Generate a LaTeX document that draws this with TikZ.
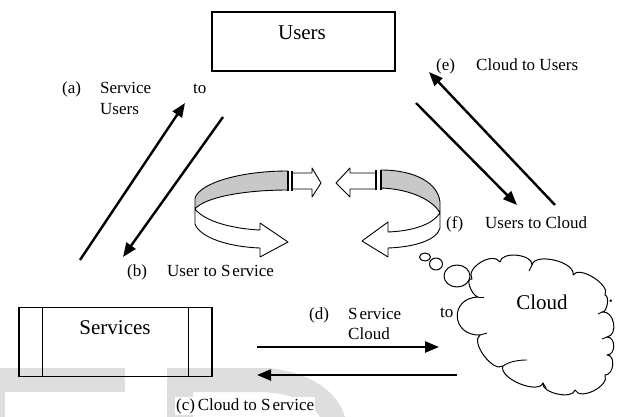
\documentclass[tikz,border=0pt]{standalone}
\usepackage{fontspec}
\setmainfont{Liberation Serif}
\usetikzlibrary{arrows.meta}
\definecolor{bandgray}{RGB}{200,200,200}
\definecolor{wmgray}{RGB}{222,222,222}
\begin{document}
\begin{tikzpicture}[x=1pt,y=-1pt,
  box/.style={draw, line width=1.2pt, inner sep=0pt},
  big/.style={font=\fontsize{21}{25}\selectfont, inner sep=0pt},
  small/.style={font=\fontsize{17}{20}\selectfont, inner sep=0pt, anchor=base west},
  flow/.style={line width=2.4pt, -{Triangle[length=14pt,width=11pt]}},
  band/.style={draw, line width=0.9pt, line join=round},
  cloudline/.style={draw, line width=1pt, line join=round},
  tick/.style={line width=0.9pt}]
\useasboundingbox[fill=white] (0,0) rectangle (621,417);

% watermark
\fill[wmgray] (0,368) rectangle (125,392);
\fill[wmgray] (0,392) rectangle (5,417);
\fill[wmgray] (167,368) -- (268,368) .. controls (310,372) and (338,392) .. (345,417)
  -- (320,417) .. controls (312,402) and (290,393) .. (262,392) -- (193,392)
  -- (193,417) -- (167,417) -- cycle;

% boxes
\node[box, minimum width=183pt, minimum height=59pt] (users) at (303.5,41.5) {};
\node[big] (userstext) at (302,33) {Users};
\node[box, minimum width=193pt, minimum height=69pt] (services) at (115.5,342) {};
\draw[line width=1.2pt] ([xshift=24pt]services.north west) -- ([xshift=24pt]services.south west);
\draw[line width=1.2pt] ([xshift=-24pt]services.north east) -- ([xshift=-24pt]services.south east);
\node[big] (servtext) at (115,328) {Services};

% straight arrows
\coordinate (aS) at (80,260);  \coordinate (aE) at (185,103);
\coordinate (bS) at (223,117); \coordinate (bE) at (123,257);
\coordinate (eS) at (555,205); \coordinate (eE) at (429,72);
\coordinate (fS) at (416,103); \coordinate (fE) at (517,205);
\coordinate (dS) at (257,347); \coordinate (dE) at (439,347);
\coordinate (cS) at (457,375); \coordinate (cE) at (257,375);
\draw[flow] (aS) -- (aE);
\draw[flow] (bS) -- (bE);
\draw[flow] (eS) -- (eE);
\draw[flow] (fS) -- (fE);
\draw[flow] (dS) -- (dE);
\draw[flow] (cS) -- (cE);

% left circular arrow
\filldraw[band, fill=bandgray] (195,198) .. controls (200,183) and (240,171) .. (288,171)
  -- (288,190) .. controls (245,190) and (205,197) .. (195,209) -- cycle;
\filldraw[band, fill=white] (195,209) .. controls (205,222) and (235,229) .. (260,230)
  -- (260,223) -- (288,242) -- (260,257) -- (260,248)
  .. controls (230,247) and (200,238) .. (195,224) -- cycle;
\filldraw[band, fill=white] (292,173) -- (312,173) -- (312,168) -- (321,183)
  -- (312,197) -- (312,189) -- (292,189);
\draw[line width=1.5pt] (288,171) -- (288,191);
\draw[line width=1.5pt] (292,171) -- (292,191);

% right circular arrow
\filldraw[band, fill=bandgray] (381,170) .. controls (415,170) and (438,183) .. (440,202)
  -- (440,213) .. controls (433,200) and (410,189) .. (381,188) -- cycle;
\filldraw[band, fill=white] (440,213) .. controls (432,225) and (412,231) .. (388,232)
  -- (388,222) -- (362,241) -- (388,257) -- (388,248)
  .. controls (415,247) and (437,240) .. (440,228) -- cycle;
\filldraw[band, fill=white] (376,173) -- (350,173) -- (350,168) -- (336,183)
  -- (350,197) -- (350,189) -- (376,189);
\draw[line width=1.5pt] (376,170) -- (376,190);
\draw[line width=1.5pt] (381,170) -- (381,190);

% thought bubbles
\draw[cloudline, fill=white] (425,257) ellipse [x radius=5.5pt, y radius=4pt];
\draw[cloudline, fill=white] (436,264) ellipse [x radius=6.5pt, y radius=6pt];
\draw[cloudline, fill=white] (457,276) ellipse [x radius=13pt, y radius=11pt];

% cloud
\draw[cloudline, fill=white] (478,297)
  .. controls (471,295) and (465,277) .. (472,279)
  .. controls (465,268) and (493,251) .. (500,262)
  .. controls (501,251) and (533,254) .. (532,265)
  .. controls (535,252) and (576,262) .. (573,275)
  .. controls (579,265) and (611,285) .. (605,295)
  .. controls (610,296) and (607,313) .. (602,312)
  .. controls (614,310) and (619,335) .. (607,337)
  .. controls (616,337) and (616,355) .. (607,355)
  .. controls (616,355) and (614,375) .. (605,375)
  .. controls (610,386) and (580,401) .. (575,390)
  .. controls (573,400) and (541,393) .. (543,383)
  .. controls (538,395) and (498,378) .. (503,366)
  .. controls (493,373) and (470,342) .. (480,335)
  .. controls (451,336) and (449,298) .. (478,297) -- cycle;
\draw[tick] (532,265) -- (529,271);
\draw[tick] (478,297) -- (484,297);
\draw[tick] (480,335) -- (487,333);
\draw[tick] (602,312) -- (598,314);
\draw[tick] (607,337) -- (602,339);
\draw[tick] (503,366) .. controls (510,361) and (520,360) .. (527,360);
\draw[tick] (543,383) -- (546,388);
\fill (610.7,300.7) circle [radius=1.4pt];
\node[big] (cloudtext) at (542,302) {Cloud};

% labels
\node[small] (la)  at (62,94)  {(a)};
\node[small] (laS) at (100,94) {Service};
\node[small] (laT) at (193,94) {to};
\node[small] (laU) at (100,115) {Users};
\node[small] (lb)  at (127,276) {(b)};
\node[small] (lbT) at (167,276) {User to S\kern2pt ervice};
\node[small] (le)  at (436,71) {(e)};
\node[small] (leT) at (476,71) {Cloud to Users};
\node[small] (lf)  at (446,228) {(f)};
\node[small] (lfT) at (485,228) {Users to Cloud};
\node[small] (ld)  at (309,319) {(d)};
\node[small] (ldS) at (348,319) {S\kern2pt ervice};
\node[small] (ldT) at (440,317) {to};
\node[small] (ldC) at (348,339) {Cloud};
\node[small, fill=white, inner sep=1pt] (lc) at (175,410) {(c)\,Cloud to S\kern2pt ervice};
\end{tikzpicture}
\end{document}
